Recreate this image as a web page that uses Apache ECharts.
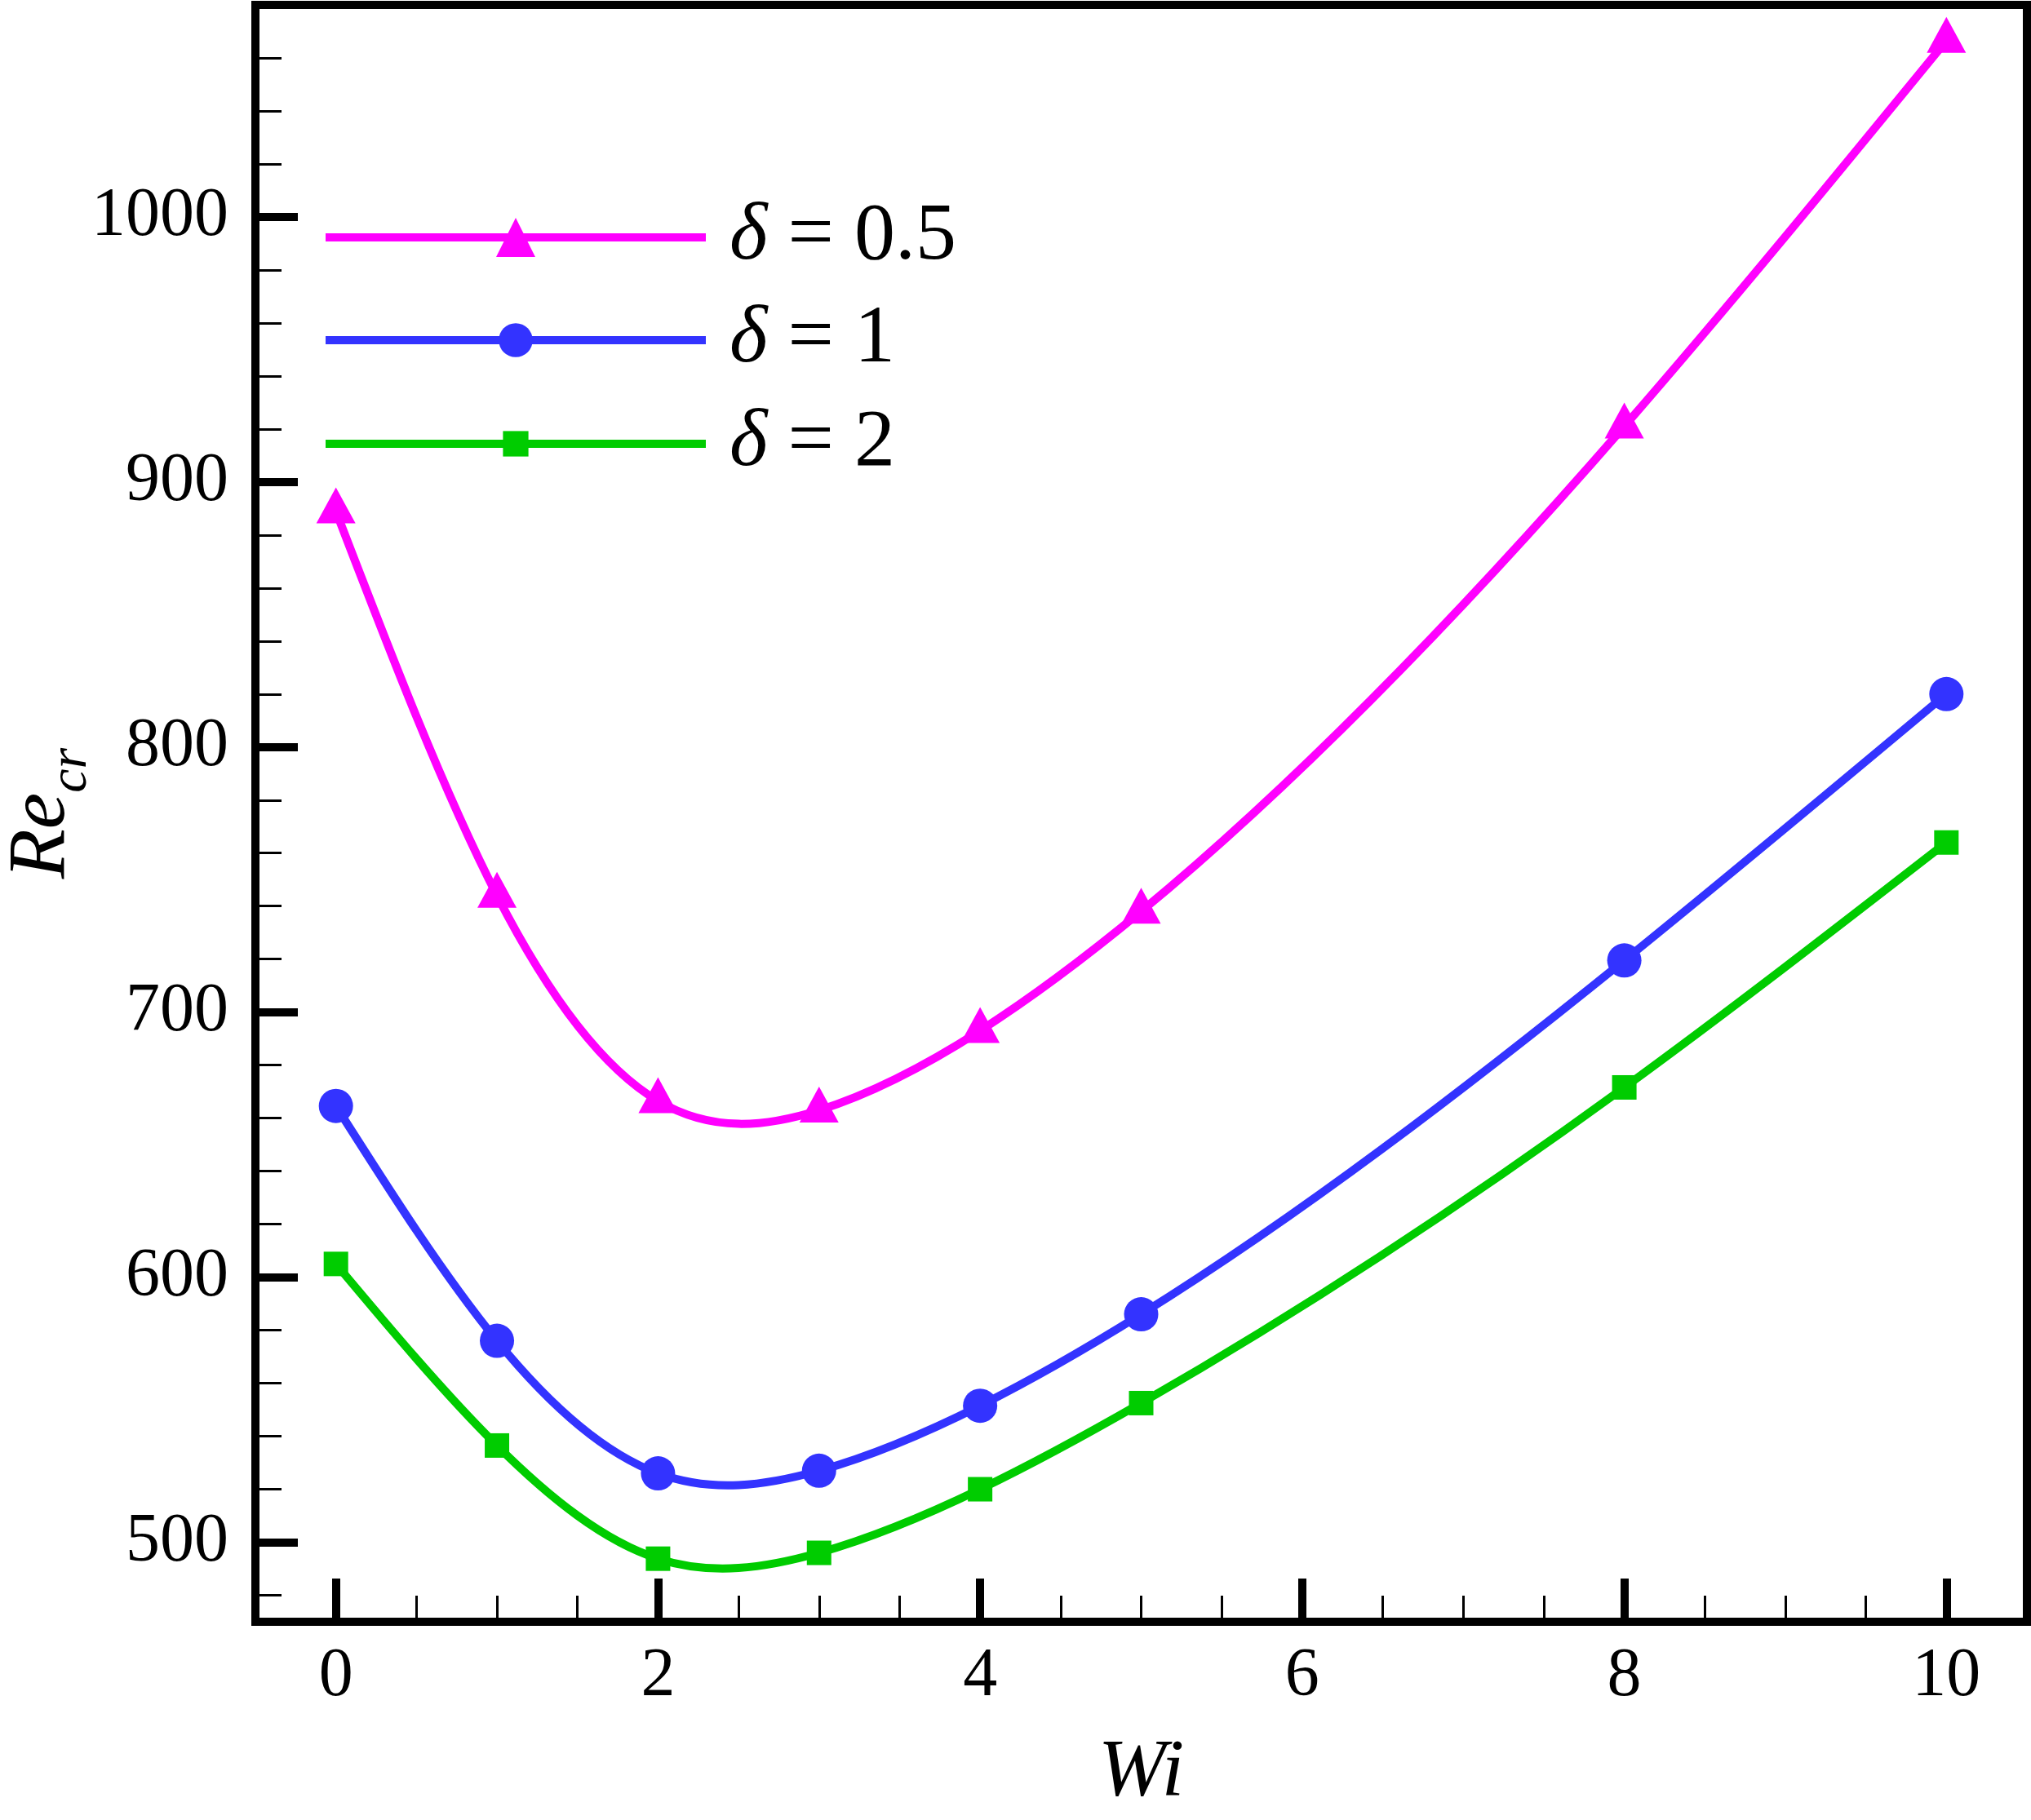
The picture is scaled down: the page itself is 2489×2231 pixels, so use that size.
<!DOCTYPE html>
<html>
<head>
<meta charset="utf-8">
<title>Re_cr vs Wi</title>
<script src="https://cdn.jsdelivr.net/npm/echarts@6/dist/echarts.min.js"></script>
<style>
  html, body { margin: 0; padding: 0; background: #fff; }
  #chart { width: 2489px; height: 2231px; }
</style>
</head>
<body>
<div id="chart"></div>
<script>
// data
const wi = [0, 1, 2, 3, 4, 5, 8, 10];
const reDelta05 = [889, 744, 666.5, 663, 693, 738, 921, 1066.5];
const reDelta1 = [664.6, 576, 526, 527, 551.5, 586, 719.5, 820];
const reDelta2 = [605, 536.5, 493.8, 496, 520, 552.5, 671.6, 764];
const seriesNames = ["δ = 0.5", "δ = 1", "δ = 2"];
const colors = ["#ff00ff", "#3333ff", "#00cc00"];

// tick labels
const xMajor = [0, 2, 4, 6, 8, 10];
const xMinor = [0.5, 1, 1.5, 2.5, 3, 3.5, 4.5, 5, 5.5, 6.5, 7, 7.5, 8.5, 9, 9.5];
const yMajor = [500, 600, 700, 800, 900, 1000];
const yMinor = [480, 520, 540, 560, 580, 620, 640, 660, 680, 720, 740, 760, 780,
  820, 840, 860, 880, 920, 940, 960, 980, 1020, 1040, 1060];

const FONT = "'Liberation Serif', 'Times New Roman', serif";
const LW = 10;
const pairs = (ys) => wi.map((x, i) => [x, ys[i]]);

const chart = echarts.init(document.getElementById("chart"));

// cubic spline through the pixel positions of the points (the plot used spline curves)
function splinePath(pts) {
  const n = pts.length;
  const h = [], d = [];
  for (let i = 0; i < n - 1; i++) {
    h[i] = pts[i + 1][0] - pts[i][0];
    d[i] = (pts[i + 1][1] - pts[i][1]) / h[i];
  }
  // tridiagonal system for the slopes, natural ends
  const a = [], b = [], c = [], r = [];
  b[0] = 2; c[0] = 1; r[0] = 3 * d[0];
  for (let i = 1; i < n - 1; i++) {
    a[i] = h[i];
    b[i] = 2 * (h[i - 1] + h[i]);
    c[i] = h[i - 1];
    r[i] = 3 * (h[i] * d[i - 1] + h[i - 1] * d[i]);
  }
  a[n - 1] = 1; b[n - 1] = 2; r[n - 1] = 3 * d[n - 2];
  for (let i = 1; i < n; i++) {
    const w = a[i] / b[i - 1];
    b[i] -= w * c[i - 1];
    r[i] -= w * r[i - 1];
  }
  const m = [];
  m[n - 1] = r[n - 1] / b[n - 1];
  for (let i = n - 2; i >= 0; i--) m[i] = (r[i] - c[i] * m[i + 1]) / b[i];

  let p = "M" + pts[0][0] + " " + pts[0][1];
  for (let i = 0; i < n - 1; i++) {
    const k = h[i] / 3;
    p += " C" + (pts[i][0] + k) + " " + (pts[i][1] + m[i] * k) + " " +
      (pts[i + 1][0] - k) + " " + (pts[i + 1][1] - m[i + 1] * k) + " " +
      pts[i + 1][0] + " " + pts[i + 1][1];
  }
  return p;
}

function curve(name, ys, color) {
  return {
    name: name + " curve",
    type: "custom",
    data: pairs(ys),
    z: 2,
    silent: true,
    renderItem: function (params, api) {
      if (params.dataIndex !== 0) return null;
      const pts = wi.map((x, i) => api.coord([x, ys[i]]));
      return {
        type: "path",
        shape: { pathData: splinePath(pts) },
        style: { stroke: color, lineWidth: LW, fill: null }
      };
    }
  };
}

function marks(name, ys, color, symbol, size, offset) {
  return {
    name: name,
    type: "line",
    data: pairs(ys),
    symbol: symbol,
    symbolSize: size,
    symbolOffset: offset,
    showSymbol: true,
    lineStyle: { color: color, width: LW, opacity: 0 },
    itemStyle: { color: color },
    emphasis: { disabled: true },
    z: 3
  };
}

function legendFor(idx, top, itemHeight) {
  return {
    data: [seriesNames[idx]],
    left: 394,
    top: top,
    padding: 0,
    itemWidth: 466,
    itemHeight: itemHeight,
    selectedMode: false,
    lineStyle: { color: colors[idx], width: LW, opacity: 1 },
    formatter: (n) => "{d|δ}" + n.slice(1),
    textStyle: {
      fontFamily: FONT,
      fontSize: 100,
      color: "#000",
      padding: [0, 0, 0, 24],
      rich: { d: { fontFamily: FONT, fontSize: 100, fontStyle: "italic", color: "#000" } }
    }
  };
}

const option = {
  backgroundColor: "#fff",
  animation: false,
  grid: {
    left: 313, right: 5, top: 6, bottom: 243,
    show: true, borderColor: "#000", borderWidth: 10,
    outerBoundsMode: "none"
  },
  legend: [
    legendFor(0, 241, 60),
    legendFor(1, 367, 52),
    legendFor(2, 494, 39)
  ],
  xAxis: [
    {
      type: "value", min: -0.5, max: 10.5, position: "bottom",
      name: "Wi", nameLocation: "middle", nameGap: 136, nameMoveOverlap: false,
      nameTextStyle: { fontFamily: FONT, fontSize: 100, fontStyle: "italic", color: "#000" },
      axisLine: { onZero: false, lineStyle: { color: "#000", width: 10 } },
      axisTick: { inside: true, length: 53, lineStyle: { color: "#000", width: 10 }, customValues: xMajor },
      axisLabel: { customValues: xMajor, fontFamily: FONT, fontSize: 84, color: "#000", margin: 26,
        formatter: (v) => String(v) },
      splitLine: { show: false }
    },
    {
      type: "value", min: -0.5, max: 10.5, position: "bottom",
      axisLine: { show: false, onZero: false },
      axisTick: { inside: true, length: 32, lineStyle: { color: "#000", width: 3 }, customValues: xMinor },
      axisLabel: { show: false },
      splitLine: { show: false }
    }
  ],
  yAxis: [
    {
      type: "value", min: 470, max: 1080, position: "left",
      name: "{i|Re}{s|cr}", nameLocation: "middle", nameGap: 192, nameMoveOverlap: false,
      nameTextStyle: {
        color: "#000",
        rich: {
          i: { fontFamily: FONT, fontSize: 100, fontStyle: "italic", color: "#000" },
          s: { fontFamily: FONT, fontSize: 66, fontStyle: "italic", color: "#000", padding: [72, 0, 0, 0] }
        }
      },
      axisLine: { onZero: false, lineStyle: { color: "#000", width: 10 } },
      axisTick: { inside: true, length: 52, lineStyle: { color: "#000", width: 10 }, customValues: yMajor },
      axisLabel: { customValues: yMajor, fontFamily: FONT, fontSize: 84, color: "#000", margin: 33,
        formatter: (v) => String(v) },
      splitLine: { show: false }
    },
    {
      type: "value", min: 470, max: 1080, position: "left",
      axisLine: { show: false, onZero: false },
      axisTick: { inside: true, length: 32, lineStyle: { color: "#000", width: 3 }, customValues: yMinor },
      axisLabel: { show: false },
      splitLine: { show: false }
    }
  ],
  series: [
    curve(seriesNames[0], reDelta05, colors[0]),
    curve(seriesNames[1], reDelta1, colors[1]),
    curve(seriesNames[2], reDelta2, colors[2]),
    marks(seriesNames[0], reDelta05, colors[0], "triangle", [48, 44], [0, -7]),
    marks(seriesNames[1], reDelta1, colors[1], "circle", 42, [0, 0]),
    marks(seriesNames[2], reDelta2, colors[2], "rect", 30, [0, 0])
  ]
};

chart.setOption(option);
window.onresize = function () {
  chart.resize();
};
</script>
</body>
</html>
